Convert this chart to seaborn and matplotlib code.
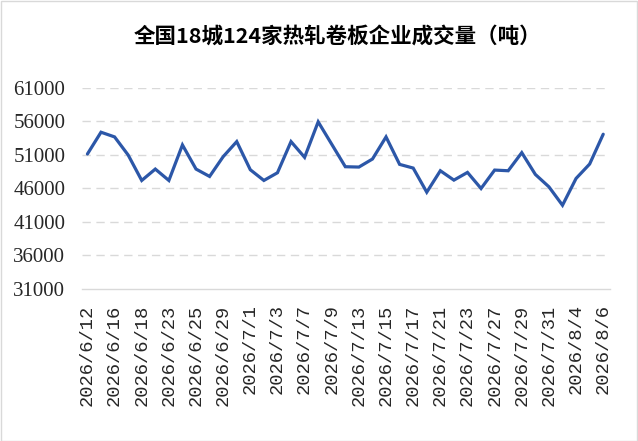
import matplotlib
matplotlib.use("Agg")
import matplotlib.pyplot as plt
import seaborn as sns
import pandas as pd

dates = ["2026/6/12", "2026/6/15", "2026/6/16", "2026/6/17", "2026/6/18",
         "2026/6/22", "2026/6/23", "2026/6/24", "2026/6/25", "2026/6/26",
         "2026/6/29", "2026/6/30", "2026/7/1", "2026/7/2", "2026/7/3",
         "2026/7/6", "2026/7/7", "2026/7/8", "2026/7/9", "2026/7/10",
         "2026/7/13", "2026/7/14", "2026/7/15", "2026/7/16", "2026/7/17",
         "2026/7/20", "2026/7/21", "2026/7/22", "2026/7/23", "2026/7/24",
         "2026/7/27", "2026/7/28", "2026/7/29", "2026/7/30", "2026/7/31",
         "2026/8/3", "2026/8/4", "2026/8/5", "2026/8/6"]
volume = [51150, 54400, 53700, 51000, 47200, 48900, 47200, 52500, 48900, 47800,
          50750, 53000, 48800, 47200, 48350, 53000, 50650, 55950, 52600, 49250,
          49200, 50400, 53700, 49600, 49050, 45450, 48650, 47250, 48400, 46000,
          48750, 48650, 51350, 48100, 46250, 43500, 47500, 49650, 54100]
y_ticks = [31000, 36000, 41000, 46000, 51000, 56000, 61000]
title = "全国18城124家热轧卷板企业成交量（吨）"

df = pd.DataFrame({"idx": range(len(dates)), "date": dates, "volume": volume})

sns.set_theme(style="white")
plt.rcParams["font.family"] = ["Noto Sans CJK SC", "DejaVu Sans"]

fig = plt.figure(figsize=(6.38, 4.41), dpi=100)
ax = fig.add_axes([82/638, 152/441, (610-82)/638, (289-88)/441])

sns.lineplot(data=df, x="idx", y="volume", ax=ax, color="#2c57a8",
             linewidth=2.3, solid_joinstyle="miter")

ax.set_ylim(31000, 61000)
ax.set_yticks(y_ticks)
ax.set_yticklabels([str(v) for v in y_ticks], family="Liberation Serif", fontsize=15)
ax.set_xlim(-0.4, len(dates) - 0.5)
ax.set_xticks(range(0, len(dates), 2))
ax.set_xticklabels(dates[::2], rotation=90, family="Liberation Mono", fontsize=13.5,
                   va="top", ha="center")
ax.tick_params(axis="x", length=0, pad=11)
ax.tick_params(axis="y", length=0, pad=12)
ax.set_xlabel("")
ax.set_ylabel("")

for v in y_ticks[1:]:
    ax.axhline(v, color="#d9d9d9", linewidth=1.0, linestyle=(0, (6, 4)), zorder=0)

for s in ["top", "right", "left"]:
    ax.spines[s].set_visible(False)
ax.spines["bottom"].set_color("#d9d9d9")
ax.spines["bottom"].set_linewidth(1.0)

fig.text(337/638, 1 - 36/441, title, ha="center", va="center",
         fontsize=15.5, fontweight="bold", color="#000000",
         family=["Noto Sans CJK SC", "DejaVu Sans"])

border = plt.Rectangle((0.001, 0.001), 0.997, 0.997, transform=fig.transFigure,
                       fill=False, edgecolor="#d9d9d9", linewidth=1.0)
fig.add_artist(border)

fig.savefig("out.png", dpi=100)
